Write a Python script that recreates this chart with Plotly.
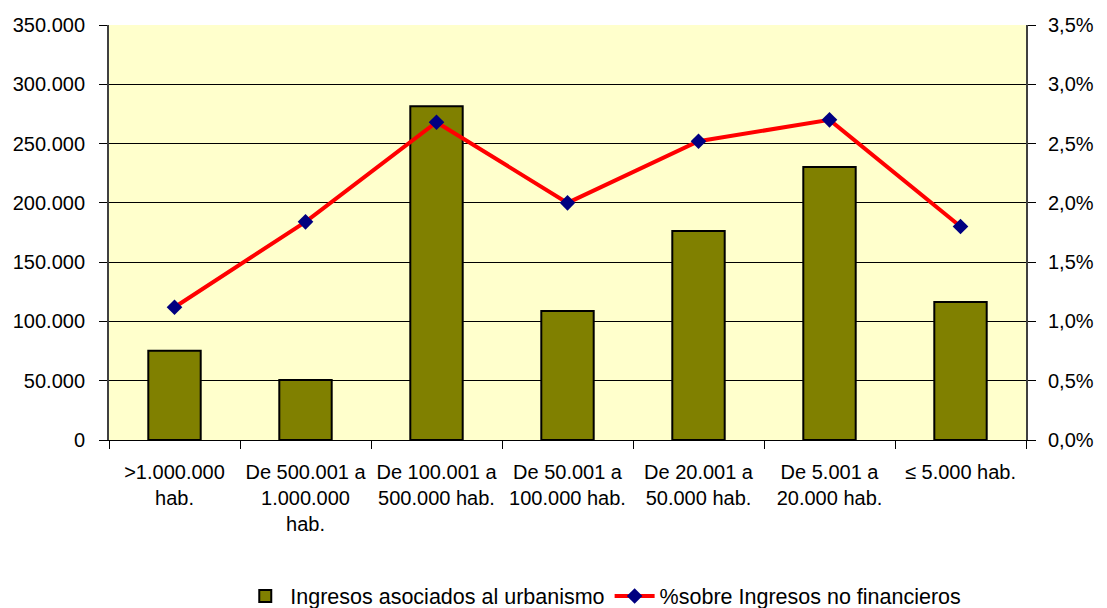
import plotly.graph_objects as go

categories = [">1.000.000<br>hab.", "De 500.001 a<br>1.000.000<br>hab.", "De 100.001 a<br>500.000 hab.",
              "De 50.001 a<br>100.000 hab.", "De 20.001 a<br>50.000 hab.", "De 5.001 a<br>20.000 hab.",
              "≤ 5.000 hab."]
ingresos = [75300, 50600, 281500, 108800, 176300, 230300, 116400]
porcentaje = [0.0112, 0.0184, 0.0268, 0.0200, 0.0252, 0.0270, 0.0180]

font_family = "Liberation Sans, Arial, sans-serif"
fs = 20

fig = go.Figure()
fig.add_trace(go.Bar(
    x=categories, y=ingresos, name="Ingresos asociados al urbanismo",
    marker=dict(color="#808000", line=dict(color="black", width=2)),
    width=0.4, yaxis="y"))
fig.add_trace(go.Scatter(
    x=categories, y=porcentaje, name="%sobre Ingresos no financieros",
    mode="lines+markers", line=dict(color="#FF0000", width=4),
    marker=dict(symbol="diamond", size=12, color="#000080"), yaxis="y2"))

fig.update_layout(
    width=1107, height=608,
    margin=dict(l=109, r=81, t=25, b=168, autoexpand=False),
    paper_bgcolor="white", plot_bgcolor="#FFFFCC",
    separators=",.",
    font=dict(family=font_family, size=fs, color="black"),
    showlegend=True,
    legend=dict(orientation="h", x=0.539, xanchor="center", y=-0.376, yanchor="middle",
                font=dict(size=21.5), itemwidth=40, traceorder="normal"),
    xaxis=dict(type="category", tickson="boundaries", ticks="outside", ticklen=8,
               tickcolor="black", showgrid=False, showline=True, linecolor="black",
               linewidth=1, tickfont=dict(size=fs), automargin=False,
               ticklabelstandoff=14),
    yaxis=dict(range=[0, 350000], dtick=50000, tickformat=",d", showgrid=True,
               gridcolor="black", gridwidth=1, showline=True, linecolor="#404040",
               linewidth=2, ticks="outside", ticklen=8, tickcolor="black",
               zeroline=False, tickfont=dict(size=fs), automargin=False,
               ticklabelstandoff=10),
    yaxis2=dict(range=[0, 0.035], dtick=0.005, tickformat=".1%", overlaying="y",
                side="right", showgrid=False, showline=True, linecolor="#404040",
                linewidth=2, ticks="outside", ticklen=8, tickcolor="black",
                zeroline=False, tickfont=dict(size=fs), automargin=False,
                ticklabelstandoff=8),
)
fig.write_html("out.html", config={"displayModeBar": False},
               post_script="document.body.style.margin='0';document.body.style.overflow='hidden';")
